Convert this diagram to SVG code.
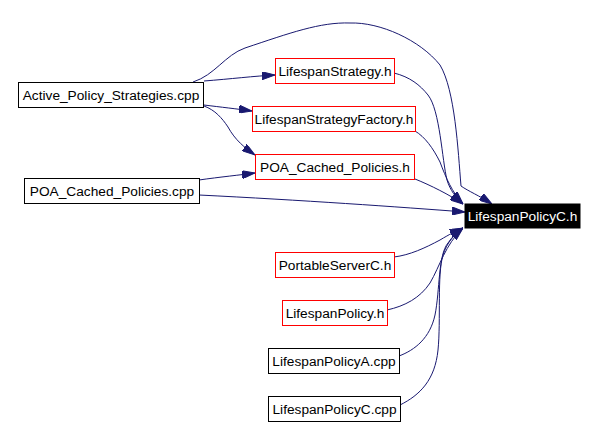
<svg xmlns="http://www.w3.org/2000/svg" width="598" height="427" viewBox="0 0 598 427">
<style>
.n rect{fill:#fff;stroke:#000;stroke-width:1}
.r rect{stroke:#f00}
.n text{font-family:"Liberation Sans",Arial,sans-serif;font-size:13.7px;text-anchor:middle;fill:#000}
.root rect{fill:#000;stroke:#000}
.root text{fill:#fff}
.e path{fill:none;stroke:#191970;stroke-width:1;marker-end:url(#ah)}
</style>
<defs>
<marker id="ah" viewBox="0 0 13 8" refX="13" refY="4" markerWidth="13" markerHeight="8" markerUnits="userSpaceOnUse" orient="auto">
<path d="M0,0 L13,4 L0,8 z" fill="#191970" stroke="#191970"/>
</marker>
</defs>
<rect width="598" height="427" fill="#fff"/>
<g id="edges" class="e">
<path d="M204,81 C230,79 255,76 275,75"/>
<path d="M193,82 C215,75 225,55 245,48 C290,33 320,22 350,23 C380,22 420,40 440,65 C455,90 458,150 461,186 C468,191 480,196 492,204"/>
<path d="M204,105 C220,107 238,109 252,111"/>
<path d="M204,106 C215,110 222,118 228,127 C235,140 245,148 255,155"/>
<path d="M199,180 C220,177 240,175 255,173"/>
<path d="M199,195 C300,200 400,207 465,212"/>
<path d="M394,73 C410,77 420,85 428,95 C440,110 442,160 447,180 C450,190 456,198 463,204"/>
<path d="M415,131 C425,137 433,148 440,162 C446,178 452,192 463,204"/>
<path d="M415,179 C430,185 450,195 463,204"/>
<path d="M394,257 C410,255 425,248 440,240 C450,234 456,231 463,228"/>
<path d="M387,310 C405,306 420,298 430,283 C440,266 445,245 463,228"/>
<path d="M399,356 C415,350 430,338 435,315 C440,290 438,255 448,243 C452,237 457,232 463,228"/>
<path d="M400,405 C420,395 435,380 438,350 C441,320 437,275 443,255 C447,242 455,234 463,228"/>
</g>
<g id="n_active" class="n"><rect x="18.5" y="82.5" width="185" height="25"/><text x="111" y="100">Active_Policy_Strategies.cpp</text></g>
<g id="n_poacpp" class="n"><rect x="24.5" y="178.5" width="175" height="25"/><text x="112" y="196">POA_Cached_Policies.cpp</text></g>
<g id="n_ls" class="n r"><rect x="275.5" y="58.5" width="119" height="25"/><text x="335" y="76">LifespanStrategy.h</text></g>
<g id="n_lsf" class="n r"><rect x="252.5" y="106.5" width="163" height="25"/><text x="334" y="124">LifespanStrategyFactory.h</text></g>
<g id="n_poah" class="n r"><rect x="255.5" y="154.5" width="159" height="25"/><text x="335" y="172">POA_Cached_Policies.h</text></g>
<g id="n_root" class="n root"><rect x="465" y="204" width="115" height="24"/><text x="522.5" y="221">LifespanPolicyC.h</text></g>
<g id="n_psc" class="n r"><rect x="275.5" y="252.5" width="119" height="25"/><text x="335" y="270">PortableServerC.h</text></g>
<g id="n_lp" class="n r"><rect x="282.5" y="300.5" width="105" height="25"/><text x="335" y="318">LifespanPolicy.h</text></g>
<g id="n_lpa" class="n"><rect x="268.5" y="348.5" width="131" height="25"/><text x="334" y="366">LifespanPolicyA.cpp</text></g>
<g id="n_lpc" class="n"><rect x="268.5" y="396.5" width="132" height="25"/><text x="334.5" y="414">LifespanPolicyC.cpp</text></g>
</svg>
